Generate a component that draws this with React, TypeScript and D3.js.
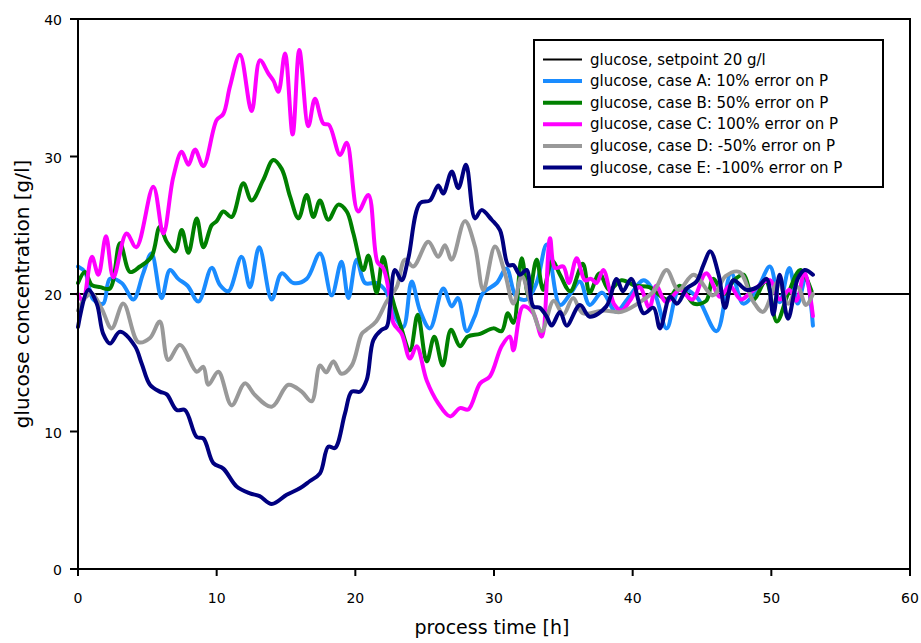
import React, { useRef, useEffect } from "react";
import * as d3 from "d3";

type Pt = [number, number];

const setpoint: Pt[] = [[0, 20], [60, 20]];

const caseA: Pt[] = [
  [0, 22.0], [0.5, 21.6], [1.1, 19.6], [1.82, 19.3], [2.3, 21.1], [3.15, 20.8], [3.99, 19.6],
  [4.7, 21.5], [5.3, 22.95], [6.03, 19.7], [6.63, 21.75], [7.23, 21.1], [7.9, 20.6], [8.68, 19.45],
  [9.64, 21.9], [10.24, 20.65], [10.84, 20.2], [11.8, 22.7], [12.4, 20.5], [13.07, 23.4],
  [13.97, 19.6], [14.69, 21.5], [15.53, 20.8], [16.49, 21.1], [17.45, 22.95], [18.29, 19.9],
  [19.0, 22.35], [19.5, 19.7], [20.1, 22.5], [20.7, 20.8], [21.54, 20.8], [22.2, 20.2],
  [22.86, 18.35], [23.46, 17.6], [24.06, 20.9], [24.66, 18.8], [25.38, 17.5], [26.34, 20.4],
  [26.95, 19.1], [27.4, 19.7], [28.03, 17.3], [28.6, 18.35], [29.2, 20.05], [30.2, 20.8],
  [30.9, 21.85], [31.6, 19.8], [32.35, 19.6], [33.07, 20.8], [33.8, 23.6], [34.76, 19.2],
  [35.5, 20.0], [36.2, 20.9], [36.9, 19.2], [37.8, 20.1], [38.8, 18.7], [39.6, 19.6],
  [40.8, 21.0], [41.6, 20.0], [42.45, 17.5], [43.4, 20.4], [44.6, 19.8], [46.05, 17.3],
  [47.1, 21.5], [47.98, 19.3], [49.0, 20.4], [49.9, 22.0], [50.6, 19.4], [51.3, 21.9],
  [51.9, 19.3], [52.5, 21.3], [53.0, 17.7],
];

const caseB: Pt[] = [
  [0, 20.8], [0.5, 21.6], [1.0, 20.65], [1.6, 20.5], [2.3, 20.4], [3.03, 23.7], [3.75, 21.6],
  [4.47, 22.0], [5.3, 22.7], [5.9, 24.9], [6.4, 23.8], [7.0, 23.1], [7.48, 24.65], [7.96, 23.0],
  [8.56, 25.5], [9.04, 23.4], [9.64, 25.0], [10.0, 25.3], [10.48, 26.0], [11.08, 25.6],
  [11.92, 28.05], [12.52, 26.8], [13.36, 28.3], [14.08, 29.75], [14.69, 29.1], [15.29, 27.1],
  [15.9, 25.5], [16.49, 27.2], [16.97, 25.6], [17.45, 26.8], [18.05, 25.4], [18.77, 26.5],
  [19.38, 26.0], [19.86, 24.4], [20.58, 21.75], [20.94, 22.8], [21.54, 20.1], [22.0, 22.7],
  [22.5, 20.3], [23.2, 17.9], [23.94, 15.9], [24.5, 18.5], [25.15, 15.1], [25.7, 16.9],
  [26.3, 14.8], [26.9, 17.4], [27.55, 16.2], [28.1, 16.9], [29.0, 17.1], [29.95, 17.5],
  [30.55, 17.3], [31.0, 18.6], [31.4, 17.9], [32.0, 22.6], [32.5, 19.8], [33.07, 22.5],
  [33.55, 20.3], [34.2, 22.4], [34.76, 21.4], [35.5, 20.2], [36.4, 22.2], [36.9, 20.1],
  [37.6, 21.5], [38.3, 20.3], [39.2, 21.0], [40.2, 20.6], [41.2, 20.5], [42.5, 19.6],
  [43.4, 20.6], [44.4, 19.3], [45.3, 19.5], [45.8, 21.1], [46.6, 20.0], [47.3, 21.0],
  [48.0, 21.4], [48.7, 19.6], [49.6, 20.9], [50.4, 18.0], [51.2, 20.0], [52.1, 21.75],
  [52.9, 20.2],
];

const caseC: Pt[] = [
  [0, 20.0], [0.35, 19.5], [1.0, 22.7], [1.47, 21.4], [2.02, 24.2], [2.55, 21.2], [3.5, 24.4],
  [4.2, 23.4], [5.43, 27.8], [6.15, 24.4], [6.87, 28.5], [7.48, 30.35], [7.96, 29.4],
  [8.44, 30.5], [9.04, 29.3], [10.0, 32.65], [10.48, 33.1], [10.96, 35.1], [11.68, 37.4],
  [12.52, 33.3], [13.12, 37.0], [13.72, 36.05], [14.1, 35.5], [14.45, 34.7], [14.93, 37.5],
  [15.48, 31.6], [15.96, 37.75], [16.61, 32.2], [17.09, 34.2], [17.69, 32.4], [18.1, 32.3],
  [18.9, 30.1], [19.38, 31.0], [20.2, 26.0], [20.94, 27.2], [21.6, 22.3], [22.0, 21.9],
  [22.4, 20.3], [22.74, 17.9], [23.34, 17.1], [23.94, 15.3], [24.42, 16.2], [25.15, 13.7],
  [25.98, 12.05], [26.83, 11.1], [27.55, 11.7], [28.15, 11.6], [29.0, 13.5], [29.7, 14.0],
  [30.55, 16.2], [31.15, 16.9], [31.4, 15.9], [32.1, 19.1], [32.83, 18.6], [33.44, 16.9],
  [34.04, 24.05], [34.4, 21.9], [35.0, 22.0], [35.4, 20.8], [35.96, 22.6], [36.56, 21.0],
  [37.0, 21.1], [37.4, 20.8], [37.88, 21.75], [38.36, 20.2], [38.7, 19.2], [39.2, 18.8],
  [39.8, 19.5], [40.5, 20.5], [41.2, 19.0], [41.7, 20.6], [42.4, 19.4], [43.4, 20.3],
  [44.3, 19.6], [45.3, 21.5], [46.3, 19.8], [47.0, 20.6], [47.8, 19.6], [48.6, 20.2],
  [49.9, 21.0], [50.6, 19.6], [51.3, 20.3], [51.8, 19.5], [52.4, 21.6], [53.0, 18.4],
];

const caseD: Pt[] = [
  [0, 18.8], [0.5, 19.7], [0.99, 20.05], [1.7, 18.95], [2.43, 17.5], [3.27, 19.3], [4.35, 16.5],
  [5.19, 16.8], [5.9, 18.0], [6.51, 15.2], [7.36, 16.3], [8.56, 14.35], [9.04, 14.7],
  [9.4, 13.4], [10.12, 14.35], [11.08, 11.9], [12.04, 13.5], [12.76, 12.65], [13.97, 11.8],
  [15.17, 13.4], [16.13, 12.9], [16.85, 12.2], [17.45, 14.8], [17.9, 14.3], [18.41, 15.1],
  [19.0, 14.2], [19.74, 14.8], [20.46, 17.1], [20.8, 17.4], [21.5, 18.0], [22.26, 19.45],
  [22.98, 20.5], [23.58, 22.5], [24.18, 22.0], [25.26, 23.8], [25.98, 22.7], [26.46, 23.55],
  [26.95, 22.5], [27.9, 25.3], [28.63, 23.45], [29.23, 20.3], [30.07, 23.45], [30.79, 21.5],
  [31.4, 19.3], [32.0, 21.3], [32.7, 19.1], [33.44, 17.3], [34.3, 19.5], [35.0, 18.5],
  [35.7, 19.7], [36.4, 18.6], [37.9, 18.8], [39.2, 18.7], [40.8, 19.6], [41.6, 20.3],
  [42.45, 21.75], [43.3, 20.3], [44.4, 21.4], [45.8, 19.9], [46.7, 21.3], [47.7, 21.6],
  [48.7, 19.45], [49.4, 18.7], [50.5, 20.9], [51.2, 19.3], [51.9, 20.5], [52.5, 19.2],
  [53.0, 20.0],
];

const caseE: Pt[] = [
  [0, 17.6], [0.74, 20.3], [1.35, 19.3], [1.82, 17.1], [2.31, 16.4], [3.03, 17.25],
  [4.11, 16.2], [4.59, 14.95], [5.19, 13.4], [5.9, 12.9], [6.4, 12.7], [7.12, 11.56],
  [7.72, 11.56], [8.56, 9.6], [9.04, 9.5], [9.76, 7.7], [10.48, 7.3], [11.44, 6.0], [12.4, 5.5],
  [13.1, 5.3], [13.97, 4.73], [15.05, 5.4], [16.0, 5.87], [16.73, 6.4], [17.45, 6.95],
  [18.05, 8.9], [18.53, 8.8], [19.25, 11.3], [19.74, 12.9], [20.34, 12.9], [20.82, 13.75],
  [21.3, 16.65], [21.9, 17.4], [22.26, 17.6], [22.5, 19.1], [22.86, 21.75], [23.34, 21.0],
  [23.82, 22.6], [24.66, 26.6], [25.38, 26.8], [25.98, 27.9], [26.34, 27.3], [26.95, 28.9],
  [27.43, 27.7], [27.98, 29.4], [28.63, 25.5], [29.1, 26.1], [29.83, 25.4], [30.43, 24.65],
  [31.03, 22.1], [31.4, 22.1], [31.87, 21.4], [32.35, 21.75], [32.83, 19.1], [33.3, 19.0],
  [33.8, 18.35], [34.16, 17.7], [34.76, 18.7], [35.24, 17.7], [36.2, 19.2], [36.9, 18.35],
  [38.1, 19.1], [38.84, 21.1], [39.3, 20.2], [39.9, 21.1], [40.8, 18.6], [41.5, 19.0],
  [41.97, 17.5], [42.7, 19.8], [43.2, 19.3], [43.9, 20.4], [44.6, 20.9], [45.1, 22.1],
  [45.6, 23.1], [46.2, 21.4], [46.66, 19.0], [47.26, 21.0], [48.2, 20.3], [49.0, 20.5],
  [49.66, 21.1], [50.14, 18.5], [50.6, 21.4], [51.2, 18.2], [51.9, 21.1], [52.4, 21.75],
  [53.0, 21.4],
];

const seriesLabels = [
  "glucose, setpoint 20 g/l",
  "glucose, case A: 10% error on P",
  "glucose, case B: 50% error on P",
  "glucose, case C: 100% error on P",
  "glucose, case D: -50% error on P",
  "glucose, case E: -100% error on P",
];
const seriesColors = ["#000000", "#1A8CFF", "#008000", "#FF00FF", "#999999", "#000080"];
const seriesData = [setpoint, caseA, caseB, caseC, caseD, caseE];

const xTicks = [0, 10, 20, 30, 40, 50, 60];
const yTicks = [0, 10, 20, 30, 40];

const FONT = "'DejaVu Sans', Verdana, sans-serif";

const GlucoseChart = () => {
  const ref = useRef<SVGSVGElement>(null);

  useEffect(() => {
    const svg = d3.select(ref.current);
    svg.selectAll("*").remove();

    const width = 921;
    const height = 643;
    const margin = { top: 19, right: 11, bottom: 74, left: 78 };

    svg.attr("width", width).attr("height", height);

    const x = d3.scaleLinear().domain([0, 60]).range([margin.left, width - margin.right]);
    const y = d3.scaleLinear().domain([0, 40]).range([height - margin.bottom, margin.top]);

    const g = svg.append("g");

    const line = d3
      .line<Pt>()
      .x((d) => x(d[0]))
      .y((d) => y(d[1]))
      .curve(d3.curveCatmullRom.alpha(0.5));

    seriesData.forEach((data, i) => {
      g.append("path")
        .datum(data)
        .attr("d", line)
        .attr("fill", "none")
        .attr("stroke", seriesColors[i])
        .attr("stroke-width", i === 0 ? 2 : 4)
        .attr("stroke-linejoin", "round")
        .attr("stroke-linecap", "round");
    });

    // frame
    g.append("rect")
      .attr("x", x(0))
      .attr("y", y(40))
      .attr("width", x(60) - x(0))
      .attr("height", y(0) - y(40))
      .attr("fill", "none")
      .attr("stroke", "#000")
      .attr("stroke-width", 2);

    // x ticks
    g.selectAll(".xtick")
      .data(xTicks)
      .enter()
      .append("line")
      .attr("x1", (d) => x(d))
      .attr("x2", (d) => x(d))
      .attr("y1", y(0))
      .attr("y2", y(0) + 7)
      .attr("stroke", "#000")
      .attr("stroke-width", 2);

    g.selectAll(".xlabel")
      .data(xTicks)
      .enter()
      .append("text")
      .attr("x", (d) => x(d))
      .attr("y", y(0) + 34)
      .attr("text-anchor", "middle")
      .style("font-family", FONT)
      .style("font-size", "14px")
      .text((d) => d);

    // y ticks
    g.selectAll(".ytick")
      .data(yTicks)
      .enter()
      .append("line")
      .attr("x1", x(0) - 8)
      .attr("x2", x(0))
      .attr("y1", (d) => y(d))
      .attr("y2", (d) => y(d))
      .attr("stroke", "#000")
      .attr("stroke-width", 2);

    g.selectAll(".ylabel")
      .data(yTicks)
      .enter()
      .append("text")
      .attr("x", x(0) - 16)
      .attr("y", (d) => y(d) + 6)
      .attr("text-anchor", "end")
      .style("font-family", FONT)
      .style("font-size", "14px")
      .text((d) => d);

    // axis titles
    g.append("text")
      .attr("x", x(0) + (x(60) - x(0)) / 2 - 2)
      .attr("y", 634)
      .attr("text-anchor", "middle")
      .style("font-family", FONT)
      .style("font-size", "19px")
      .text("process time [h]");

    g.append("text")
      .attr("transform", `translate(29, ${(y(0) + y(40)) / 2}) rotate(-90)`)
      .attr("text-anchor", "middle")
      .style("font-family", FONT)
      .style("font-size", "20px")
      .text("glucose concentration [g/l]");

    // legend
    const legend = g.append("g");
    legend
      .append("rect")
      .attr("x", 534)
      .attr("y", 40)
      .attr("width", 349)
      .attr("height", 147)
      .attr("fill", "#fff")
      .attr("stroke", "#000")
      .attr("stroke-width", 2);

    seriesLabels.forEach((label, i) => {
      const ly = 59.5 + i * 21.6;
      legend
        .append("line")
        .attr("x1", 543)
        .attr("x2", 582)
        .attr("y1", ly)
        .attr("y2", ly)
        .attr("stroke", seriesColors[i])
        .attr("stroke-width", i === 0 ? 2 : 4);
      legend
        .append("text")
        .attr("x", 590)
        .attr("y", ly + 5)
        .style("font-family", FONT)
        .style("font-size", "15px")
        .text(label);
    });
  }, []);

  return (
    <div style={{ position: "absolute", left: 0, top: 0 }}>
      <svg ref={ref} style={{ display: "block", background: "#fff" }} />
    </div>
  );
};

export default function App() {
  return <GlucoseChart />;
}
